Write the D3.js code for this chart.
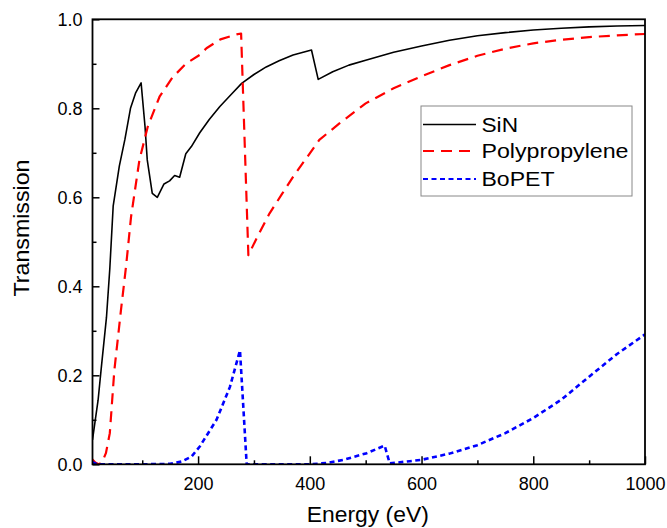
<!DOCTYPE html>
<html><head><meta charset="utf-8">
<script src="https://cdn.jsdelivr.net/npm/d3@7"></script>
<style>body{margin:0;background:#fff}svg{display:block;font-family:"Liberation Sans",Arial,sans-serif}</style>
</head><body><svg id="c" width="667" height="528"></svg>
<script>
const sinE = [11,16,21,27,36,42,48,59,69,79,88,98,105,109,118,127,139,149,158,167,178,188,203,220,239,260,278,300,322,345,370,403,415,441,470,500,550,600,650,700,750,800,850,900,950,1000];
const sinT = [0.055,0.10,0.144,0.22,0.33,0.44,0.58,0.67,0.73,0.80,0.834,0.857,0.759,0.684,0.609,0.600,0.630,0.637,0.649,0.645,0.698,0.714,0.745,0.775,0.804,0.832,0.856,0.876,0.893,0.907,0.920,0.931,0.865,0.882,0.897,0.908,0.926,0.940,0.953,0.963,0.970,0.976,0.980,0.983,0.985,0.986];
const ppE = [10,16,22,28,35,42,50,62,71,80,95,110,131,154,178,203,215,240,269,277,290,306,328,350,370,395,417,453,500,550,600,650,700,750,800,850,900,950,1000];
const ppT = [0.012,0.004,0.0,0.004,0.025,0.07,0.21,0.347,0.444,0.556,0.684,0.759,0.826,0.869,0.900,0.920,0.935,0.955,0.966,0.968,0.47,0.511,0.564,0.607,0.646,0.690,0.729,0.766,0.811,0.845,0.872,0.897,0.918,0.934,0.946,0.954,0.960,0.964,0.967];
const petE = [10,20,100,150,170,188,203,233,257,275,287,350,400,430,460,502,534,543,579,600,650,700,750,800,850,900,950,1000];
const petT = [0.005,0,0,0.001,0.006,0.017,0.04,0.10,0.174,0.256,0,0,0,0.003,0.01,0.025,0.042,0.002,0.007,0.010,0.024,0.043,0.070,0.104,0.145,0.197,0.248,0.292];
const seriesNames = ["SiN","Polypropylene","BoPET"];
const xMajor = [200,400,600,800,1000];
const xMinor = [100,300,500,700,900];
const yMajor = [0,0.2,0.4,0.6,0.8,1.0];
const yMinor = [0.1,0.3,0.5,0.7,0.9];

const svg = d3.select("#c");
const L=92.5, R=645, T=19.3, B=464.3;
const x = d3.scaleLinear().domain([11,1000]).range([L,R]);
const y = d3.scaleLinear().domain([0,1]).range([B,T]);

const styles = [
  {color:"#000", width:1.6, dash:null},
  {color:"#f00", width:2.2, dash:"11,7"},
  {color:"#00f", width:2.6, dash:"5,3.5"}
];
const data = [
  sinE.map((e,i)=>[e,sinT[i]]),
  ppE.map((e,i)=>[e,ppT[i]]),
  petE.map((e,i)=>[e,petT[i]])
];
const line = d3.line().x(d=>x(d[0])).y(d=>y(d[1]));
svg.append("clipPath").attr("id","cp").append("rect").attr("x",L).attr("y",T).attr("width",R-L).attr("height",B-T);
const g = svg.append("g").attr("clip-path","url(#cp)");
data.forEach((d,i)=>{
  g.append("path").attr("d",line(d)).attr("fill","none").attr("stroke",styles[i].color)
   .attr("stroke-width",styles[i].width).attr("stroke-dasharray",styles[i].dash).attr("stroke-linejoin","round");
});

// axes
const xa = svg.append("g").attr("transform",`translate(0,${B})`)
  .call(d3.axisBottom(x).tickValues(xMajor).tickSizeInner(-8).tickSizeOuter(0).tickPadding(13).tickFormat(d3.format("d")));
const xm = svg.append("g").attr("transform",`translate(0,${B})`)
  .call(d3.axisBottom(x).tickValues(xMinor).tickSizeInner(-4).tickSizeOuter(0).tickFormat(""));
const ya = svg.append("g").attr("transform",`translate(${L},0)`)
  .call(d3.axisLeft(y).tickValues(yMajor).tickSizeInner(-7).tickSizeOuter(0).tickPadding(10).tickFormat(d3.format(".1f")));
const ym = svg.append("g").attr("transform",`translate(${L},0)`)
  .call(d3.axisLeft(y).tickValues(yMinor).tickSizeInner(-4).tickSizeOuter(0).tickFormat(""));
[xa,xm,ya,ym].forEach(a=>{
  a.selectAll("path").remove();
  a.selectAll("line").attr("stroke","#000").attr("stroke-width",1.5);
  a.selectAll("text").attr("font-size",18).attr("fill","#000").attr("font-family","'Liberation Sans',Arial,sans-serif");
});
svg.append("rect").attr("x",L).attr("y",T).attr("width",R-L).attr("height",B-T)
  .attr("fill","none").attr("stroke","#000").attr("stroke-width",1.8);

svg.append("text").attr("x",(L+R)/2 - 1).attr("y",522).attr("text-anchor","middle").attr("font-size",22)
  .attr("textLength",122).attr("lengthAdjust","spacingAndGlyphs").text("Energy (eV)");
svg.append("text").attr("transform",`translate(28.5,228) rotate(-90)`).attr("text-anchor","middle").attr("font-size",22)
  .attr("textLength",137).attr("lengthAdjust","spacingAndGlyphs").text("Transmission");

// legend
const lg = svg.append("g");
lg.append("rect").attr("x",421).attr("y",106).attr("width",211).attr("height",90).attr("fill","#fff").attr("stroke","#888").attr("stroke-width",1);
const ly = [124.5,151,179];
const lw = [36.5,147,73];
seriesNames.forEach((n,i)=>{
  lg.append("line").attr("x1",423).attr("x2",476).attr("y1",ly[i]).attr("y2",ly[i])
    .attr("stroke",styles[i].color).attr("stroke-width",i==0?1.6:2.2).attr("stroke-dasharray",styles[i].dash);
  lg.append("text").attr("x",481.5).attr("y",ly[i]).attr("dy","0.36em").attr("font-size",20)
    .attr("textLength",lw[i]).attr("lengthAdjust","spacingAndGlyphs").text(n);
});
</script></body></html>
